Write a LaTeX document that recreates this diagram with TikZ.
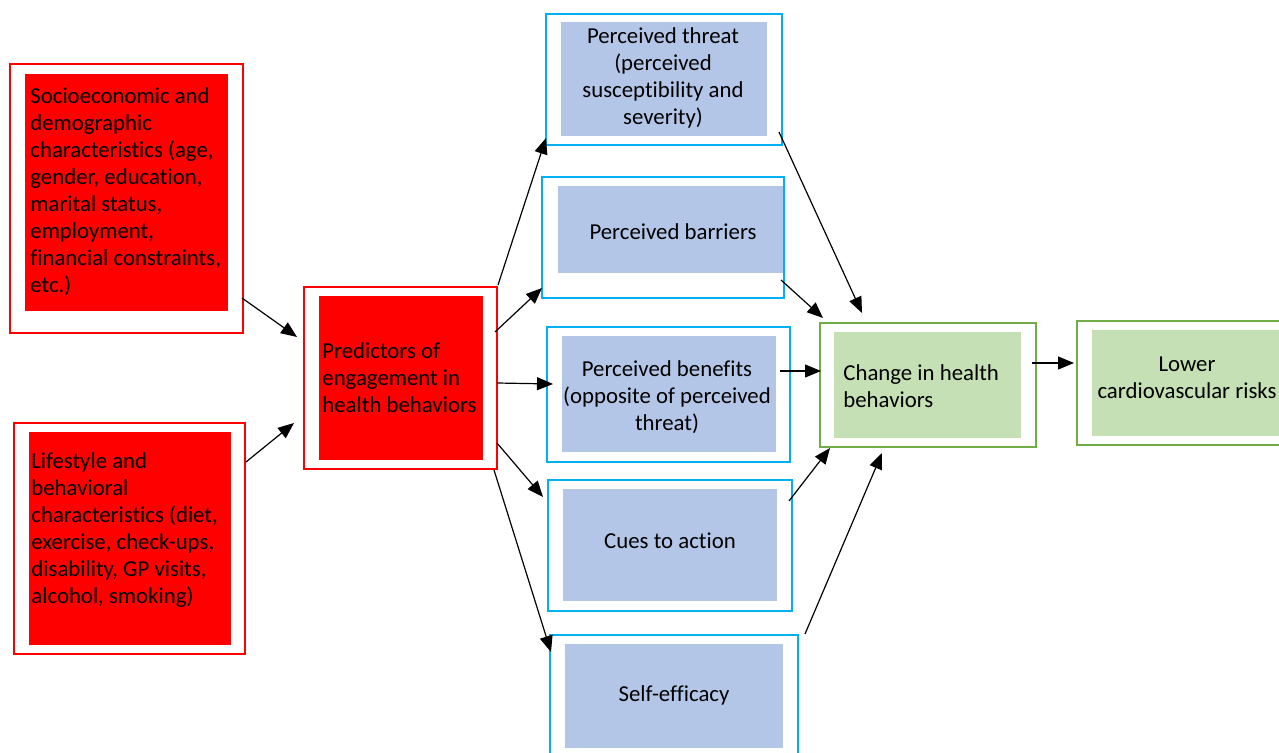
\documentclass[tikz,border=0pt]{standalone}
\usepackage{fontspec}
\setmainfont{Carlito}[Ligatures=NoCommon]
\usetikzlibrary{positioning,calc,arrows.meta}
\definecolor{cyanline}{HTML}{00B0F0}
\definecolor{bluefill}{HTML}{B4C6E7}
\definecolor{greenline}{HTML}{70AD47}
\definecolor{greenfill}{HTML}{C5E0B4}

\begin{document}
\begin{tikzpicture}[x=0.5pt, y=-0.5pt,
        frame/.style={rectangle, draw, line width=1pt, inner sep=0pt, outer sep=0pt},
        panel/.style={rectangle, inner sep=0pt, outer sep=0pt},
        txt/.style={inner sep=0pt, font=\fontsize{11.4}{13.5}\selectfont},
        line/.style={draw, -{Triangle[length=8pt, width=6.5pt]}, line width=0.6pt}]

        \useasboundingbox (0,0) rectangle (1279,753);

        % predictors (red)
        \node [frame, draw=red, minimum width=116.5pt, minimum height=134.5pt] (socio) at (126.5,198.5) {};
        \node [panel, fill=red, minimum width=101.5pt, minimum height=118.5pt] (socio-in) at (126.5,192.5) {};
        \node [txt, anchor=west, align=left] (socio-txt) at (30,191.5) {Socioeconomic and\\ demographic\\ characteristics (age,\\ gender, education,\\ marital status,\\ employment,\\ financial constraints,\\ etc.)};

        \node [frame, draw=red, minimum width=115.5pt, minimum height=115.5pt] (life) at (129.5,538.5) {};
        \node [panel, fill=red, minimum width=101pt, minimum height=106.5pt] (life-in) at (130,538.5) {};
        \node [txt, anchor=west, align=left] (life-txt) at (31,530) {Lifestyle and\\ behavioral\\ characteristics (diet,\\ exercise, check-ups,\\ disability, GP visits,\\ alcohol, smoking)};

        \node [frame, draw=red, minimum width=96.5pt, minimum height=91pt] (pred) at (400.5,378) {};
        \node [panel, fill=red, minimum width=82pt, minimum height=82pt] (pred-in) at (401,378) {};
        \node [txt, anchor=west, align=left] (pred-txt) at (322,378) {Predictors of\\ engagement in\\ health behaviors};

        % health belief constructs (blue)
        \node [frame, draw=cyanline, minimum width=118pt, minimum height=65.5pt] (threat) at (664,79.5) {};
        \node [panel, fill=bluefill, minimum width=103pt, minimum height=57pt] (threat-in) at (664,79) {};
        \node [txt, align=center] (threat-txt) at (663,78) {Perceived threat\\ (perceived\\ susceptibility and\\ severity)};

        \node [frame, draw=cyanline, minimum width=121pt, minimum height=60.5pt] (barr) at (663,237.5) {};
        \node [panel, fill=bluefill, minimum width=112.5pt, minimum height=43.5pt] (barr-in) at (670.5,229.5) {};
        \node [txt, align=center] (barr-txt) at (673,232) {Perceived barriers};

        \node [frame, draw=cyanline, minimum width=121.5pt, minimum height=67.5pt] (ben) at (668.5,394.5) {};
        \node [panel, fill=bluefill, minimum width=107pt, minimum height=58pt] (ben-in) at (669,394) {};
        \node [txt, align=center] (ben-txt) at (667,397) {Perceived benefits\\ (opposite of perceived\\ threat)};

        \node [frame, draw=cyanline, minimum width=122pt, minimum height=65.5pt] (cues) at (670,545.5) {};
        \node [panel, fill=bluefill, minimum width=107pt, minimum height=56pt] (cues-in) at (670,545) {};
        \node [txt, align=center] (cues-txt) at (670,541) {Cues to action};

        \node [frame, draw=cyanline, minimum width=124pt, minimum height=61pt] (self) at (674,696) {};
        \node [panel, fill=bluefill, minimum width=109pt, minimum height=52pt] (self-in) at (674,696) {};
        \node [txt, align=center] (self-txt) at (674,695) {Self-efficacy};

        % outcomes (green)
        \node [frame, draw=greenline, minimum width=108pt, minimum height=62pt] (change) at (928,385) {};
        \node [panel, fill=greenfill, minimum width=93.5pt, minimum height=53pt] (change-in) at (927.5,385) {};
        \node [txt, anchor=west, align=left] (change-txt) at (843,386.5) {Change in health\\ behaviors};

        \node [frame, draw=greenline, minimum width=114pt, minimum height=62pt] (lower) at (1191,383) {};
        \node [panel, fill=greenfill, minimum width=99pt, minimum height=53pt] (lower-in) at (1191,383) {};
        \node [txt, align=center] (lower-txt) at (1187,377.5) {Lower\\ cardiovascular risks};

        % connectors
        \path [line] ($(socio.south east)+(-1,-35)$) -- ($(pred.north west)+(-7,50)$);
        \path [line] ($(life.north east)+(1,39)$) -- ($(pred.south west)+(-10,-46)$);
        \path [line] ($(pred.north east)+(1,-2)$) -- ($(threat.south west)+(0,-7)$);
        \path [line] ($(pred.north east)+(-2,45)$) -- ($(barr.south west)+(0,-10)$);
        \path [line] ($(pred.east)+(0,5)$) -- ($(ben.west)+(6,-10.5)$);
        \path [line] ($(pred.south east)+(0,-26)$) -- ($(cues.north west)+(-5,17)$);
        \path [line] ($(pred.south east)+(-3,1)$) -- ($(self.north west)+(1,17)$);

        \path [line] ($(threat.south east)+(-3,-13)$) -- ($(change.north west)+(42,-10)$);
        \path [line] ($(barr.south east)+(-3,-18)$) -- ($(change.north west)+(3,-5)$);
        \path [line] ($(ben.east)+(-10,-23.5)$) -- ($(change.west)+(1,-14)$);
        \path [line] ($(cues.north east)+(-3,21)$) -- ($(change.south west)+(10,1)$);
        \path [line] ($(self.north east)+(7,-1)$) -- ($(change.south west)+(62,6)$);

        \path [line] ($(change.east)+(-4,-22)$) -- ($(lower.west)+(-3,-20)$);

    \end{tikzpicture}
\end{document}
